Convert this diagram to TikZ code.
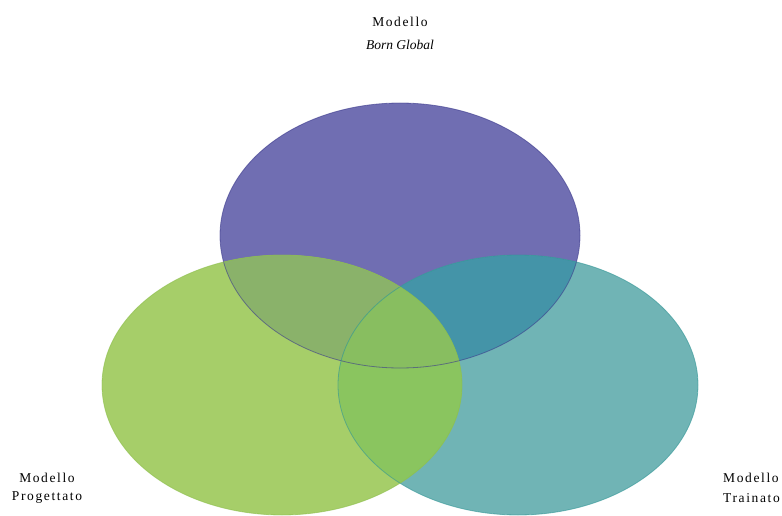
\documentclass[tikz,border=0pt]{standalone}
\usepackage{fontspec}
\setmainfont{Liberation Serif}
\usetikzlibrary{positioning}
\definecolor{bornfill}{RGB}{112,110,178}
\definecolor{progfill}{RGB}{166,206,105}
\definecolor{trainfill}{RGB}{112,180,181}
\definecolor{bpfill}{RGB}{138,178,106}
\definecolor{btfill}{RGB}{68,148,168}
\definecolor{ptfill}{RGB}{138,197,95}
\definecolor{allfill}{RGB}{136,190,96}
\definecolor{bornline}{RGB}{60,58,140}
\definecolor{progline}{RGB}{140,190,75}
\definecolor{trainline}{RGB}{50,150,150}
\tikzset{
  lbl/.style={font=\fontsize{13.5}{16}\selectfont\addfontfeatures{LetterSpace=12}, inner sep=0pt},
  rim/.style={line width=0.8pt, opacity=0.6}
}
\begin{document}
\begin{tikzpicture}[x=1pt,y=-1pt]
		\useasboundingbox (0,0) rectangle (782,516);
		\def\born{(400,235.5) ellipse [x radius=180, y radius=132.5]}
		\def\prog{(282,385) ellipse [x radius=180, y radius=130]}
		\def\train{(518,385) ellipse [x radius=180, y radius=130]}
		%cerchi
		\fill[bornfill] \born;
		\fill[trainfill] \train;
		\fill[progfill] \prog;
		%intersezioni
		\begin{scope}
			\clip \born;
			\fill[bpfill] \prog;
			\fill[btfill] \train;
		\end{scope}
		\begin{scope}
			\clip \prog;
			\fill[ptfill] \train;
			\clip \born;
			\fill[allfill] \train;
		\end{scope}
		%bordi
		\draw[rim, bornline] \born;
		\draw[rim, trainline] \train;
		\draw[rim, progline] \prog;
		%testi
		\node[lbl] (born1) at (400,22) {Modello};
		\node[lbl, font=\fontsize{13.5}{16}\selectfont\itshape] (born2) at (400,45) {Born Global};
		\node[lbl] (prog1) at (47,478) {Modello};
		\node[lbl] (prog2) at (47,498) {Progettato};
		\node[lbl, anchor=west] (train1) at (723,478) {Modello};
		\node[lbl, anchor=west] (train2) at (723,498) {Trainato};
	\end{tikzpicture}
\end{document}
